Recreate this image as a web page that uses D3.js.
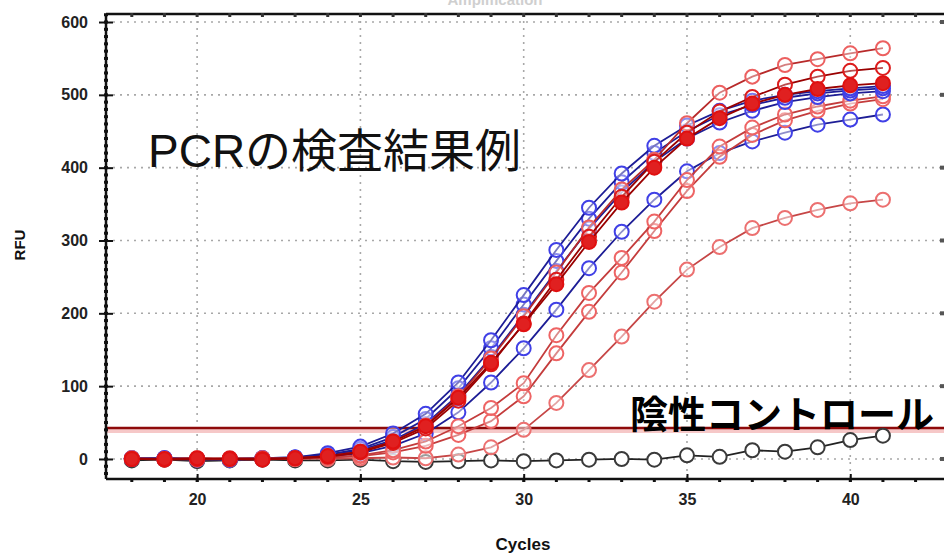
<!DOCTYPE html>
<html>
<head>
<meta charset="utf-8">
<script src="https://cdn.jsdelivr.net/npm/d3@7"></script>
<style>
  body { margin: 0; background: #fff; }
  svg { display: block; }
</style>
</head>
<body>
<svg id="chart" width="945" height="554"></svg>
<script>
// cycles 18..41
var cycles = d3.range(18, 42);

var blue1 = [1, 0, -1, 0, 1, 2, 8, 17, 35, 62, 105, 163, 225, 287, 345, 392, 430, 458, 478, 492, 500, 505, 509, 512];
var blue2 = [0, 1, 0, -1, 0, 2, 6, 14, 30, 55, 97, 152, 212, 272, 330, 380, 420, 450, 472, 486, 496, 502, 506, 509];
var blue3 = [1, 0, 0, -1, 1, 2, 5, 12, 26, 48, 88, 140, 198, 258, 316, 366, 408, 440, 462, 478, 490, 497, 502, 505];
var blue4 = [0, 1, -1, 0, 1, 1, 3, 8, 18, 35, 64, 105, 152, 205, 262, 312, 356, 395, 420, 436, 448, 459, 466, 473];
var red1 = [1, 0, -1, 0, 1, 1, 4, 10, 24, 46, 86, 138, 196, 256, 318, 370, 411, 461, 503, 525, 541, 549, 557, 564];
var red2 = [0, -1, 0, 1, 0, 1, 3, 9, 22, 42, 80, 130, 186, 246, 305, 360, 408, 448, 477, 497, 514, 525, 533, 537];
var red3 = [0, 0, 1, 0, -1, 1, 4, 10, 24, 45, 84, 132, 185, 240, 298, 352, 400, 440, 468, 488, 500, 508, 513, 516];
var red4 = [0, 0, 1, -1, 0, 0, 2, 5, 12, 24, 45, 70, 104, 170, 228, 276, 326, 383, 429, 455, 473, 484, 492, 498];
var red5 = [1, -1, 0, 0, 1, 0, 2, 4, 9, 18, 33, 52, 86, 145, 202, 256, 313, 368, 415, 445, 465, 478, 488, 494];
var red6 = [0, 1, 0, -1, 0, 1, 0, 1, 2, 1, 6, 16, 40, 77, 122, 168, 216, 260, 291, 317, 331, 342, 351, 356];
var negControl = [-2, -1, -3, -2, -1, -2, -2, -1, -3, -4, -3, -2, -3, -2, -1, 0, -1, 5, 3, 12, 10, 16, 26, 32];

var thresholdValue = 42.5;
var xTicks = [20, 25, 30, 35, 40];
var yTicks = [0, 100, 200, 300, 400, 500, 600];

var svg = d3.select("#chart"),
    pLeft = 106, pRight = 944, pTop = 14, pBottom = 479;

var x = d3.scaleLinear().domain([17.21, 42.87]).range([pLeft, pRight]);
var y = d3.scaleLinear().domain([-27.5, 611]).range([pBottom, pTop]);

var labelFont = "bold 16px Arial, 'Liberation Sans', sans-serif";

// faint title, cut by the top edge as in the source image
svg.append("text")
  .attr("x", 495).attr("y", 5)
  .attr("text-anchor", "middle")
  .style("font", "bold 15px Arial, sans-serif")
  .style("fill", "#cfcfcf")
  .text("Amplification");

svg.append("defs").append("clipPath").attr("id", "plot")
  .append("rect").attr("x", pLeft).attr("y", pTop).attr("width", pRight - pLeft).attr("height", pBottom - pTop);

// grid
var grid = svg.append("g");
grid.selectAll(".gx").data(xTicks).enter().append("line")
  .attr("x1", function(d) { return x(d); }).attr("x2", function(d) { return x(d); })
  .attr("y1", pTop).attr("y2", pBottom)
  .attr("stroke", "#a8a8a8").attr("stroke-width", 1.6).attr("stroke-dasharray", "2,5");
grid.selectAll(".gy").data(yTicks).enter().append("line")
  .attr("x1", pLeft).attr("x2", pRight)
  .attr("y1", function(d) { return y(d); }).attr("y2", function(d) { return y(d); })
  .attr("stroke", "#a8a8a8").attr("stroke-width", 1.6).attr("stroke-dasharray", "2,5");

// threshold
svg.append("line").attr("x1", pLeft).attr("x2", pRight)
  .attr("y1", y(thresholdValue) + 2).attr("y2", y(thresholdValue) + 2)
  .attr("stroke", "#f6c8c8").attr("stroke-width", 6);
svg.append("line").attr("x1", pLeft).attr("x2", pRight)
  .attr("y1", y(thresholdValue)).attr("y2", y(thresholdValue))
  .attr("stroke", "#8e0a0a").attr("stroke-width", 2.5);

// series, drawn bottom to top
var series = [
  { values: negControl, line: "#222", dot: "#3a3a3a", fill: "#fff" },
  { values: red6, line: "#c64646", dot: "#ec7070", fill: "rgba(255,255,255,0.5)" },
  { values: blue4, line: "#1d1d96", dot: "#4040e6", fill: "rgba(255,255,255,0.5)" },
  { values: red5, line: "#c43c3c", dot: "#ee6464", fill: "rgba(255,255,255,0.4)" },
  { values: red4, line: "#c43c3c", dot: "#ee6464", fill: "rgba(255,255,255,0.4)" },
  { values: blue3, line: "#1d1d96", dot: "#4040e6", fill: "rgba(255,255,255,0.4)" },
  { values: blue2, line: "#1d1d96", dot: "#4040e6", fill: "rgba(255,255,255,0.4)" },
  { values: blue1, line: "#1d1d96", dot: "#4040e6", fill: "rgba(255,255,255,0.4)" },
  { values: red1, line: "#b82a2a", dot: "#ec6060", fill: "rgba(255,255,255,0.4)" },
  { values: red2, line: "#9a0000", dot: "#dc1c1c", fill: "rgba(255,255,255,0.3)" },
  { values: red3, line: "#9a0000", dot: "#e01010", fill: "#e02020" }
];

var line = d3.line()
  .x(function(d, i) { return x(cycles[i]); })
  .y(function(d) { return y(d); });

var plot = svg.append("g").attr("clip-path", "url(#plot)");
series.forEach(function(s) {
  var g = plot.append("g");
  g.append("path").datum(s.values)
    .attr("d", line).attr("fill", "none")
    .attr("stroke", s.line).attr("stroke-width", 1.8);
  g.selectAll("circle").data(s.values).enter().append("circle")
    .attr("cx", function(d, i) { return x(cycles[i]); })
    .attr("cy", function(d) { return y(d); })
    .attr("r", 7)
    .attr("fill", s.fill)
    .attr("stroke", s.dot).attr("stroke-width", 2);
});

// frame
svg.append("line").attr("x1", pLeft).attr("x2", pRight).attr("y1", pTop).attr("y2", pTop)
  .attr("stroke", "#111").attr("stroke-width", 2.5);
svg.append("line").attr("x1", pLeft).attr("x2", pRight).attr("y1", pBottom).attr("y2", pBottom)
  .attr("stroke", "#111").attr("stroke-width", 2.5);
svg.append("line").attr("x1", pLeft).attr("x2", pLeft).attr("y1", pTop).attr("y2", pBottom)
  .attr("stroke", "#111").attr("stroke-width", 2.5);

// minor ticks
var xMinor = d3.range(18, 43);
svg.selectAll(".mx").data(xMinor).enter().append("rect")
  .attr("x", function(d) { return x(d) - 1.5; }).attr("y", pBottom - 1)
  .attr("width", 3).attr("height", 4).attr("fill", "#111");
svg.selectAll(".mxt").data(xMinor).enter().append("rect")
  .attr("x", function(d) { return x(d) - 1.5; }).attr("y", pTop - 1)
  .attr("width", 3).attr("height", 4).attr("fill", "#333");
var yMinor = d3.range(-20, 611, 10);
svg.selectAll(".my").data(yMinor).enter().append("rect")
  .attr("x", pLeft - 2).attr("y", function(d) { return y(d) - 1.5; })
  .attr("width", 4).attr("height", 3).attr("fill", "#111");
svg.selectAll(".myr").data(yTicks).enter().append("rect")
  .attr("x", pRight - 4).attr("y", function(d) { return y(d) - 2; })
  .attr("width", 4).attr("height", 4).attr("fill", "#555");

// major ticks and labels
var xAxis = d3.axisBottom(x).tickValues(xTicks).tickSize(8).tickSizeOuter(0);
var xg = svg.append("g").attr("transform", "translate(0," + (pBottom - 5) + ")").call(xAxis);
xg.select(".domain").remove();
xg.selectAll(".tick line").attr("stroke", "#111").attr("stroke-width", 2);
xg.selectAll(".tick text")
  .style("font", labelFont).style("fill", "#222")
  .attr("y", 20).attr("dy", "0.71em");

var yAxis = d3.axisLeft(y).tickValues(yTicks).tickSize(14).tickSizeOuter(0);
var yg = svg.append("g").attr("transform", "translate(" + (pLeft + 7) + ",0)").call(yAxis);
yg.select(".domain").remove();
yg.selectAll(".tick line").attr("stroke", "#111").attr("stroke-width", 2);
yg.selectAll(".tick text")
  .style("font", labelFont).style("fill", "#222")
  .attr("x", -25);

// axis titles
svg.append("text")
  .attr("x", 523).attr("y", 550).attr("text-anchor", "middle")
  .style("font", "bold 17px Arial, 'Liberation Sans', sans-serif").style("fill", "#111")
  .text("Cycles");
svg.append("text")
  .attr("transform", "translate(25,245) rotate(-90)")
  .attr("text-anchor", "middle")
  .style("font", "bold 15px Arial, 'Liberation Sans', sans-serif").style("fill", "#111")
  .text("RFU");

// annotations
svg.append("text")
  .attr("x", 148).attr("y", 167)
  .style("font", "46px Arial, 'Noto Sans CJK JP', sans-serif")
  .style("fill", "#111")
  .text("PCRの検査結果例");
svg.append("text")
  .attr("x", 630).attr("y", 428)
  .style("font", "bold 38px 'Noto Sans CJK JP', sans-serif")
  .style("fill", "#000")
  .text("陰性コントロール");
</script>
</body>
</html>
